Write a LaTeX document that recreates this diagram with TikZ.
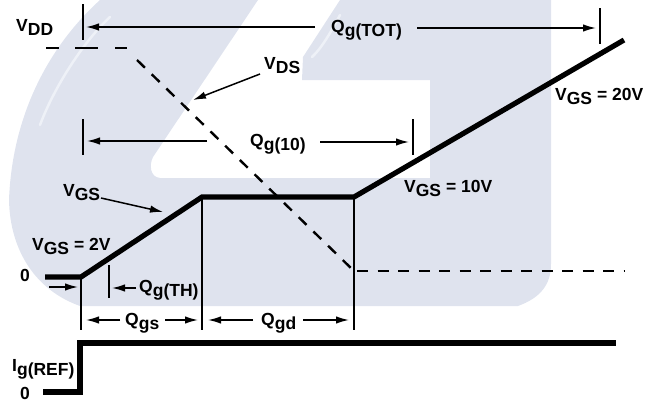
\documentclass[tikz,border=0pt]{standalone}
\usepackage{fontspec}
\setmainfont{Liberation Sans}
\usetikzlibrary{arrows.meta}
\definecolor{wm}{RGB}{223,227,238}
\definecolor{wmlight}{RGB}{238,241,247}
\tikzset{
 lbl/.style={font=\bfseries\fontsize{17.5}{20}\selectfont,inner sep=0pt,anchor=base west},
 tick/.style={line width=1.5pt},
 dim/.style={line width=1.5pt,-{Latex[length=13pt,width=7.5pt]}},
 dash line/.style={line width=2.4pt,dash pattern=on 11pt off 9.5pt},
 top dash/.style={line width=2.6pt,dash pattern=on 13pt off 16pt on 23pt off 17pt on 13pt},
 trace/.style={line width=5.2pt,line join=miter},
 swoosh/.style={wmlight,line width=2.5pt,line cap=round},
}
\newcommand{\subs}[1]{\raisebox{-4pt}{#1}}
\begin{document}
\begin{tikzpicture}[x=1pt,y=-1pt]
\useasboundingbox (0,0) rectangle (662,407);
% watermark
\fill[wm] (100,0) .. controls (45,50) and (12,120) .. (9,200) .. controls (10,250) and (35,290) .. (80,306)
 -- (518,306) .. controls (540,298) and (551,285) .. (551,264) -- (551,0) -- (340,0)
 -- (303,57) -- (302,80) -- (430,80) -- (430,178) -- (160,178) .. controls (150,177) and (149,165) .. (153,157)
 -- (258,0) -- cycle;
\draw[swoosh] (110,17) .. controls (85,40) and (55,85) .. (40,125);
\draw[swoosh] (340,15) .. controls (332,30) and (322,48) .. (312,57);
% coordinates
\coordinate (o) at (81,277);
\coordinate (a) at (202,197);
\coordinate (b) at (354,197);
\coordinate (c) at (624,40);
\coordinate (s) at (45,277);
\draw[trace] (s) -- (o) -- (a) -- (b) -- (c);
\coordinate (d0) at (46,48);
\coordinate (d1) at (127,48);
\coordinate (d1b) at (137,60);
\coordinate (d2) at (354,271);
\coordinate (d2b) at (357,271);
\coordinate (d3) at (624,271);
\draw[top dash] (d0) -- (d1);
\draw[dash line] (d1b) -- (d2);
\draw[dash line] (d2b) -- (d3);
% ticks
\coordinate (t1a) at (83,4); \coordinate (t1b) at (83,40);
\draw[tick] (t1a) -- (t1b);
\coordinate (t2a) at (600,8); \coordinate (t2b) at (600,44);
\draw[tick] (t2a) -- (t2b);
\coordinate (t3a) at (83,119); \coordinate (t3b) at (83,155);
\draw[tick] (t3a) -- (t3b);
\coordinate (t4a) at (413,119); \coordinate (t4b) at (413,155);
\draw[tick] (t4a) -- (t4b);
\coordinate (t5a) at (81,277); \coordinate (t5b) at (81,330);
\draw[tick] (t5a) -- (t5b);
\coordinate (t6a) at (202,197); \coordinate (t6b) at (202,330);
\draw[tick] (t6a) -- (t6b);
\coordinate (t7a) at (354,197); \coordinate (t7b) at (354,330);
\draw[tick] (t7a) -- (t7b);
\coordinate (t8a) at (109,265); \coordinate (t8b) at (109,298);
\draw[tick] (t8a) -- (t8b);
% pulse
\coordinate (p0) at (43,392); \coordinate (p1) at (80,392);
\coordinate (p2) at (80,343); \coordinate (p3) at (616,343);
\draw[line width=5.5pt] (p0) -- (p1) -- (p2) -- (p3);
% labels
\node[lbl] (vdd) at (16,31) {V\subs{DD}};
\node[lbl] (qtot) at (331,32) {Q\subs{g(TOT)}};
\node[lbl] (vds) at (264,69) {V\subs{DS}};
\node[lbl] (q10) at (250,146) {Q\subs{g(10)}};
\node[lbl] (vgs) at (63,196) {V\subs{GS}};
\node[lbl] (v20) at (555,100) {V\subs{GS} = 20V};
\node[lbl] (v10) at (404,192) {V\subs{GS} = 10V};
\node[lbl] (v2) at (32,250) {V\subs{GS} = 2V};
\node[lbl] (z1) at (20,281) {0};
\node[lbl] (qth) at (139,292) {Q\subs{g(TH)}};
\node[lbl] (qgs) at (125,325) {Q\subs{gs}};
\node[lbl] (qgd) at (261,325) {Q\subs{gd}};
\node[lbl] (ig) at (12,371) {I\subs{g(REF)}};
\node[lbl] (z2) at (20,399) {0};
% arrows
\coordinate (e1) at (315,27); \coordinate (e2) at (86,27);
\draw[dim] (e1) -- (e2);
\coordinate (e3) at (417,28); \coordinate (e4) at (596,28);
\draw[dim] (e3) -- (e4);
\coordinate (e5) at (207,141); \coordinate (e6) at (87,141);
\draw[dim] (e5) -- (e6);
\coordinate (e7) at (320,142); \coordinate (e8) at (409,142);
\draw[dim] (e7) -- (e8);
\coordinate (e9) at (260,74); \coordinate (e10) at (193,100);
\draw[dim] (e9) -- (e10);
\coordinate (e11) at (101,198); \coordinate (e12) at (163,212);
\draw[dim] (e11) -- (e12);
\coordinate (e13) at (49,287); \coordinate (e14) at (78,287);
\draw[dim] (e13) -- (e14);
\coordinate (e15) at (136,288); \coordinate (e16) at (112,288);
\draw[dim] (e15) -- (e16);
\coordinate (e17) at (120,320); \coordinate (e18) at (86,320);
\draw[dim] (e17) -- (e18);
\coordinate (e19) at (165,320); \coordinate (e20) at (198,320);
\draw[dim] (e19) -- (e20);
\coordinate (e21) at (253,320); \coordinate (e22) at (208,320);
\draw[dim] (e21) -- (e22);
\coordinate (e23) at (303,320); \coordinate (e24) at (349,320);
\draw[dim] (e23) -- (e24);
\end{tikzpicture}
\end{document}
